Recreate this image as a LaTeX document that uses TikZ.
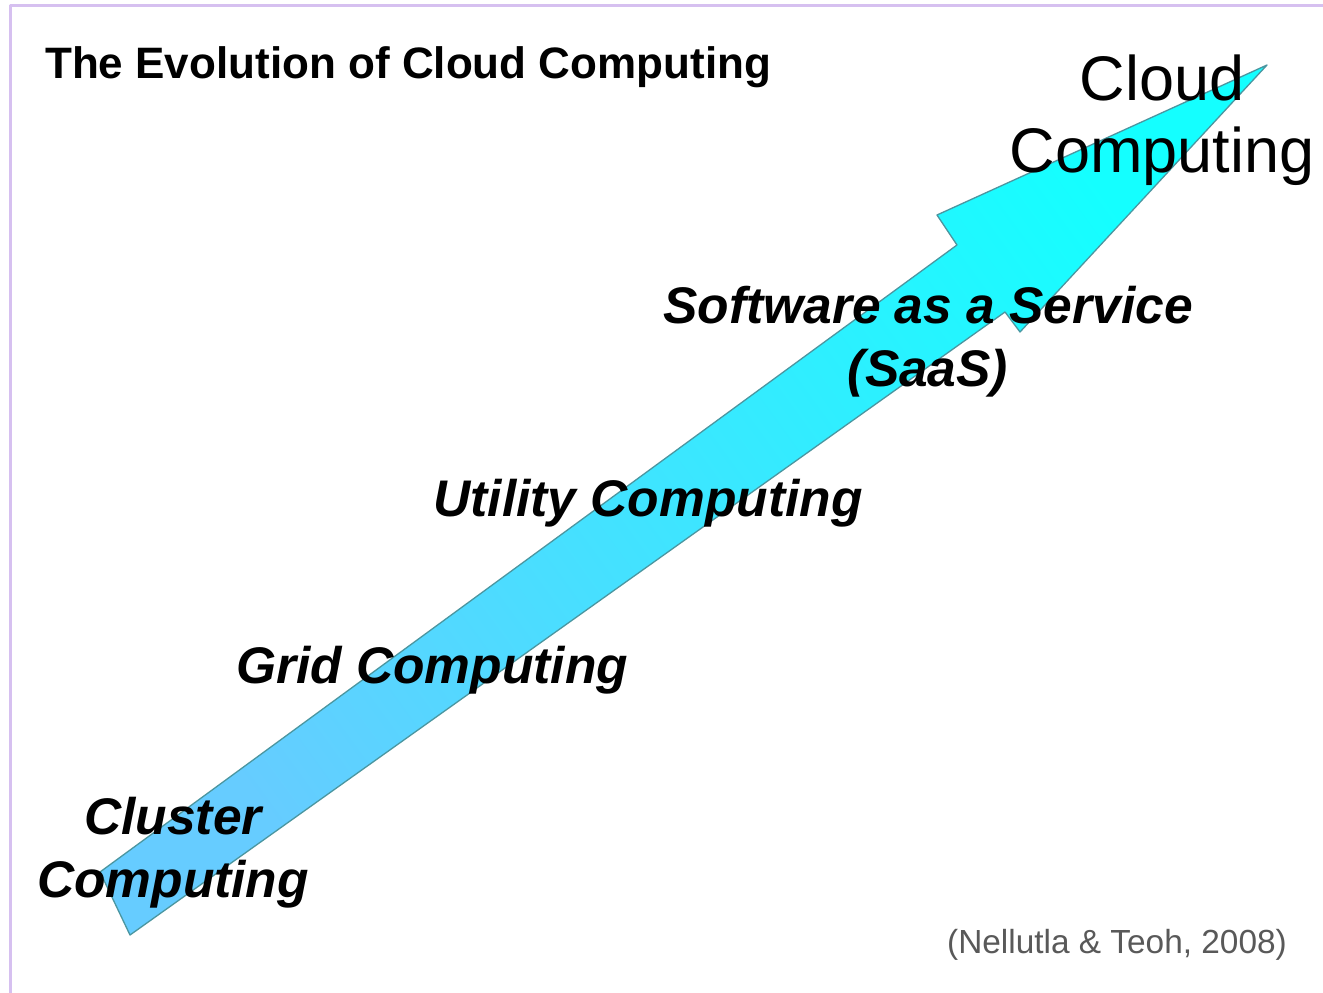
\documentclass[tikz,border=0pt]{standalone}
\usepackage{fontspec}
\setmainfont{Liberation Sans}
\definecolor{shaftblue}{RGB}{102,204,255}
\definecolor{headcyan}{RGB}{20,255,255}
\definecolor{rimteal}{RGB}{75,150,160}
\definecolor{framelilac}{RGB}{214,192,240}
\tikzset{
	stage/.style = {font = \fontsize{51.5}{63}\selectfont\bfseries\itshape, inner sep = 0, align = center, anchor = base},
}
\begin{document}
\begin{tikzpicture}[x = 1pt, y = -1pt, join = round, line cap = round]
	\useasboundingbox (0,0) rectangle (1323,993);
	\fill[white] (0,0) rectangle (1323,993);
	\draw[framelilac, line width = 3pt] (10,993) -- (10,5) -- (1323,5);
	\path 
	(130,935) coordinate (T1)   % tail, lower corner
	(100,872) coordinate (T2)   % tail, upper corner
	(957,245) coordinate (N1)   % upper notch
	(937,215) coordinate (B1)   % upper barb
	(1267,65) coordinate (P)    % tip
	(1020,332) coordinate (B2)  % lower barb
	(1005,312) coordinate (N2)  % lower notch
	;
	\shade[draw = rimteal, line width = 1.3pt, bottom color = shaftblue, top color = headcyan, shading angle = -54]
	(T1) -- (T2) -- (N1) -- (B1) -- (P) -- (B2) -- (N2) -- cycle;
	
	\node[font = \fontsize{44}{50}\selectfont\bfseries, inner sep = 0, anchor = base west] (title) at (45,78) {The Evolution of Cloud Computing};
	\node[stage] (cluster) at (173,897) {Cluster\\Computing};
	\node[stage] (grid) at (432,683) {Grid Computing};
	\node[stage] (utility) at (648,516) {Utility Computing};
	\node[stage] (saas) at (928,386) {Software as a Service\\(SaaS)};
	\node[font = \fontsize{63}{72}\selectfont, inner sep = 0, align = center, anchor = base] (cloud) at (1162,172) {Cloud\\Computing};
	\node[font = \fontsize{33.4}{38}\selectfont, text = black!65, inner sep = 0, anchor = base] (source) at (1117,953) {(Nellutla \& Teoh, 2008)};
\end{tikzpicture}
\end{document}
